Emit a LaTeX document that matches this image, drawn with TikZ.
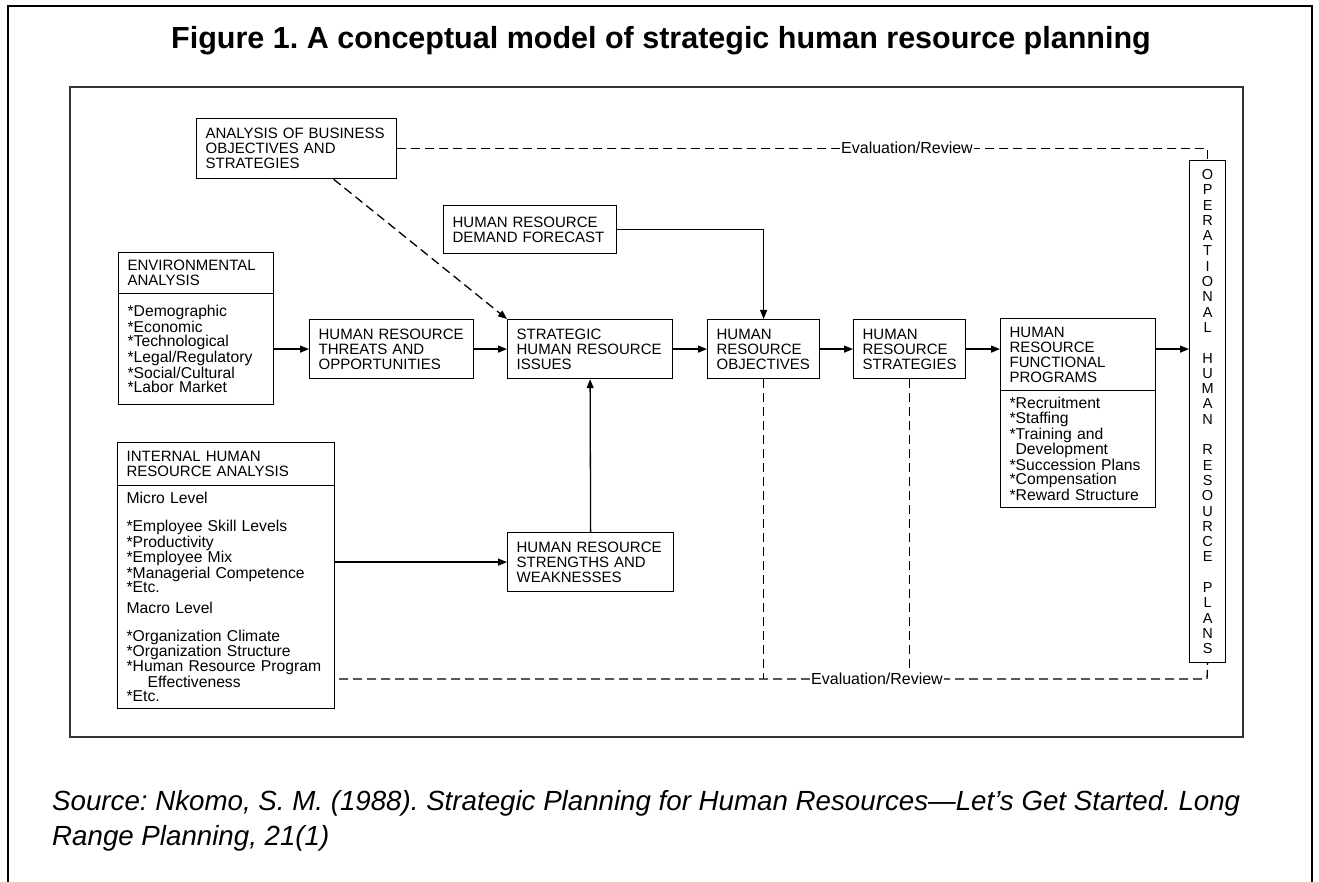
\documentclass[tikz,border=0pt]{standalone}
\usepackage{fontspec}
\setmainfont{Liberation Sans}
\usetikzlibrary{arrows.meta}
\frenchspacing

\begin{document}
\begin{tikzpicture}[x=1pt,y=-1pt,
  box/.style={draw, line width=1.2pt, anchor=north west, align=left,
    inner xsep=9pt, inner ysep=0pt, font=\fontsize{15}{15}\selectfont},
  list/.style={box, font=\fontsize{15.7}{14.6}\selectfont},
  flow/.style={line width=1.3pt, -{Triangle[length=9pt,width=7pt]}},
  review/.style={line width=1.3pt, dash pattern=on 9pt off 5pt},
  evaltext/.style={fill=white, inner xsep=1pt, font=\fontsize{16}{16}\selectfont}]

\useasboundingbox (0,0) rectangle (1319,882);

% frames and title
\draw[line width=2pt] (8,882) -- (8,6) -- (1312,6) -- (1312,882);
\draw[line width=1.3pt, black!80] (70,87) rectangle (1243,737);
\node[font=\fontsize{30.5}{34}\selectfont\bfseries] (title) at (661,41) {Figure 1. A conceptual model of strategic human resource planning};

% boxes
\node[box, text width=182pt, minimum height=60pt] (biz) at (196,118) {ANALYSIS OF BUSINESS\\OBJECTIVES AND\\STRATEGIES};
\node[box, text width=155pt, minimum height=48pt] (demand) at (443,205) {HUMAN RESOURCE\\DEMAND FORECAST};

\node[box, text width=137pt, minimum height=41pt] (envhead) at (118,252) {ENVIRONMENTAL\\ANALYSIS};
\node[list, text width=137pt, minimum height=111pt] (envbody) at (118,293) {{*}Demographic\\{*}Economic\\{*}Technological\\{*}Legal/Regulatory\\{*}Social/Cultural\\{*}Labor Market};

\node[box, text width=146pt, minimum height=59pt] (threats) at (309,319) {HUMAN RESOURCE\\THREATS AND\\OPPORTUNITIES};
\node[box, text width=147pt, minimum height=59pt] (issues) at (507,319) {STRATEGIC\\HUMAN RESOURCE\\ISSUES};
\node[box, text width=94pt, minimum height=59pt] (obj) at (707,319) {HUMAN\\RESOURCE\\OBJECTIVES};
\node[box, text width=94pt, minimum height=59pt] (strat) at (853,319) {HUMAN\\RESOURCE\\STRATEGIES};

\node[box, text width=137pt, minimum height=72pt] (funchead) at (1000,318) {HUMAN\\RESOURCE\\FUNCTIONAL\\PROGRAMS};
\node[list, text width=137pt, minimum height=117pt] (funcbody) at (1000,390) {{*}Recruitment\\{*}Staffing\\{*}Training and\\\hspace*{6pt}Development\\{*}Succession Plans\\{*}Compensation\\{*}Reward Structure};

\node[box, text width=199pt, minimum height=43pt] (inthead) at (117,442) {INTERNAL HUMAN\\RESOURCE ANALYSIS};
\node[list, text width=199pt, minimum height=223pt] (intbody) at (117,485) {Micro Level\\[13pt]{*}Employee Skill Levels\\{*}Productivity\\{*}Employee Mix\\{*}Managerial Competence\\{*}Etc.\\[6pt]Macro Level\\[13pt]{*}Organization Climate\\{*}Organization Structure\\{*}Human Resource Program\\\hspace*{21pt}Effectiveness\\{*}Etc.};

\node[box, text width=148pt, minimum height=59pt] (strengths) at (507,532) {HUMAN RESOURCE\\STRENGTHS AND\\WEAKNESSES};

\node[box, align=center, inner sep=0pt, minimum width=36pt, minimum height=502pt, font=\fontsize{14.5}{15.3}\selectfont] (ops) at (1189,160) {O\\P\\E\\R\\A\\T\\I\\O\\N\\A\\L\\[15.3pt]H\\U\\M\\A\\N\\[15.3pt]R\\E\\S\\O\\U\\R\\C\\E\\[15.3pt]P\\L\\A\\N\\S};

% flow
\draw[flow] (envbody.east) -- (threats.west);
\draw[flow] (threats.east) -- (issues.west);
\draw[flow] (issues.east) -- (obj.west);
\draw[flow] (obj.east) -- (strat.west);
\draw[flow] (strat.east) -- (strat.east -| funchead.west);
\draw[flow] (funchead.east |- strat.east) -- (ops.west |- strat.east);
\draw[flow] (demand.east) -| (obj.north);
\draw[flow] (strengths.north) -- (issues.south);
\draw[flow] (strengths.west -| intbody.east) -- (strengths.west);
\draw[review, -{Triangle[length=9pt,width=7pt]}] ([xshift=37pt]biz.south) -- (issues.north west);

% evaluation / review
\coordinate (evalbot) at (1207,679);
\draw[review] (biz.east) -| (ops.north);
\draw[review, shorten <=4pt] (intbody.east |- evalbot) -- (evalbot) -- (ops.south);
\draw[review] (obj.south) -- (obj.south |- evalbot);
\draw[review, shorten >=10pt] (strat.south) -- (strat.south |- evalbot);
\node[evaltext] (evaltop) at (907,148) {Evaluation/Review};
\node[evaltext] (evalbottom) at (877,679) {Evaluation/Review};

% source
\node[anchor=base west, align=left, inner sep=0pt, font=\fontsize{27.7}{35}\selectfont\itshape] (source) at (52,845) {Source: Nkomo, S. M. (1988). Strategic Planning for Human Resources—Let’s Get Started. Long\\Range Planning, 21(1)};

\end{tikzpicture}
\end{document}
